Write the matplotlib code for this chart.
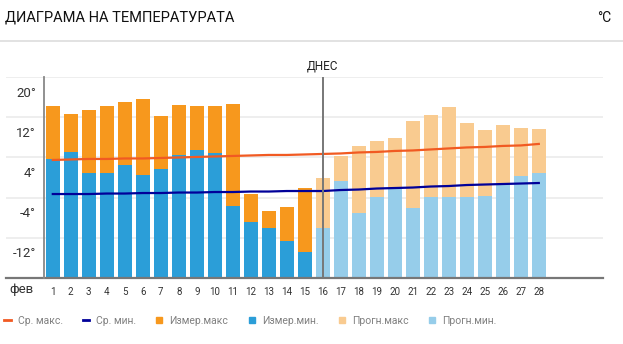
import matplotlib
matplotlib.use('Agg')
import matplotlib.pyplot as plt
import matplotlib.transforms as mtransforms
from matplotlib.lines import Line2D

# measured days (1..15) and forecast days (16..28), °C
days_meas = list(range(1, 16))
meas_max = [14.3, 12.7, 13.5, 14.3, 15.1, 15.7, 12.3, 14.5, 14.3, 14.3, 14.7, -3.3, -6.7, -5.9, -2.1]
meas_min = [3.7, 5.1, 0.9, 0.9, 2.5, 0.5, 1.7, 4.5, 5.5, 4.9, -5.7, -8.9, -10.1, -12.7, -14.9]

days_fc = list(range(16, 29))
fc_max = [-0.1, 4.3, 6.3, 7.3, 7.9, 11.3, 12.5, 14.1, 10.9, 9.5, 10.5, 9.9, 9.7]
fc_min = [-10.1, -0.7, -7.1, -3.9, -2.3, -6.1, -3.9, -3.9, -3.9, -3.7, -1.3, 0.3, 0.9]

days_all = list(range(1, 29))
avg_max = [3.5, 3.6, 3.7, 3.7, 3.8, 3.8, 3.9, 4.0, 4.1, 4.2, 4.3, 4.4, 4.5, 4.5, 4.6,
           4.7, 4.8, 5.0, 5.1, 5.3, 5.4, 5.6, 5.8, 6.0, 6.1, 6.3, 6.4, 6.7]
avg_min = [-3.3, -3.3, -3.3, -3.2, -3.2, -3.1, -3.1, -3.0, -3.0, -2.9, -2.9, -2.8, -2.8, -2.7, -2.7,
           -2.7, -2.5, -2.4, -2.2, -2.1, -2.0, -1.8, -1.7, -1.5, -1.4, -1.3, -1.2, -1.1]

y_ticks = [20, 12, 4, -4, -12]
today = 16

C_MEAS_MAX = '#f7981d'
C_MEAS_MIN = '#2b9ed8'
C_FC_MAX = '#f9cb90'
C_FC_MIN = '#96cdea'
C_AVG_MAX = '#f15a22'
C_AVG_MIN = '#000099'

W, H = 623, 344
plt.rcParams['font.family'] = ['Roboto', 'DejaVu Sans']

fig = plt.figure(figsize=(W / 100, H / 100), dpi=100)

# plot area in pixels
px_left, px_right = 6, 603
px_top, px_bottom = 77.3, 277.7
ax = fig.add_axes([px_left / W, 1 - px_bottom / H,
                   (px_right - px_left) / W, (px_bottom - px_top) / H])
ymin, ymax = -20, 20
ax.set_ylim(ymin, ymax)
ax.set_xlim(1 + (px_left - 52.8) / 18, 1 + (px_right - 52.8) / 18)
for s in ax.spines.values():
    s.set_visible(False)

for v in y_ticks:
    ax.axhline(v, color='#ebebeb', lw=1.2, zorder=0)

# y labels sit below their grid line
offset = mtransforms.ScaledTranslation(0, -0.16, fig.dpi_scale_trans)
for v in y_ticks:
    ax.text(0.067, v, f'{v}°', ha='right', va='center', fontsize=9.5,
            color='#333333', transform=ax.transData + offset, clip_on=False)

bw = 0.78
ax.bar(days_meas, [m - ymin for m in meas_min], bottom=ymin, width=bw, color=C_MEAS_MIN, zorder=2)
ax.bar(days_meas, [a - b for a, b in zip(meas_max, meas_min)], bottom=meas_min, width=bw,
       color=C_MEAS_MAX, zorder=2)
ax.bar(days_fc, [m - ymin for m in fc_min], bottom=ymin, width=bw, color=C_FC_MIN, zorder=2)
ax.bar(days_fc, [a - b for a, b in zip(fc_max, fc_min)], bottom=fc_min, width=bw,
       color=C_FC_MAX, zorder=2)

ax.plot(days_all, avg_max, color=C_AVG_MAX, lw=1.6, zorder=4)
ax.plot(days_all, avg_min, color=C_AVG_MIN, lw=1.6, zorder=4)

# axes lines
ax.axhline(ymin, color='#777777', lw=1.6, zorder=5, clip_on=False)
ax.plot([0.53, 0.53], [ymin, ymax], color='#888888', lw=1.3, zorder=5, clip_on=False)
ax.plot([today, today], [ymin, ymax - 0.2], color='#777777', lw=1.4, zorder=5)
ax.text(today, ymax + 2.3, 'ДНЕС', ha='center', va='center', fontsize=8.5,
        color='#222222', clip_on=False)

ax.set_yticks([])
ax.set_xticks(days_all)
ax.set_xticklabels([str(d) for d in days_all])
ax.tick_params(axis='x', length=0, pad=7, labelsize=7, labelcolor='#333333')

fig.text(21 / W, 1 - 290 / H, 'фев', ha='center', va='center', fontsize=9.5, color='#333333')

# header
fig.text(5 / W, 1 - 18 / H, 'ДИАГРАМА НА ТЕМПЕРАТУРАТА', ha='left', va='center',
         fontsize=10.5, color='#111111')
fig.text(611 / W, 1 - 18 / H, '°C', ha='right', va='center', fontsize=10,
         color='#111111')
fig.add_artist(Line2D([0, 1], [1 - 41 / H] * 2, color='#dddddd', lw=1.2))

handles = [
    Line2D([], [], color=C_AVG_MAX, lw=2),
    Line2D([], [], color=C_AVG_MIN, lw=2),
    Line2D([], [], color=C_MEAS_MAX, marker='s', ls='none', markersize=4.5),
    Line2D([], [], color=C_MEAS_MIN, marker='s', ls='none', markersize=4.5),
    Line2D([], [], color=C_FC_MAX, marker='s', ls='none', markersize=4.5),
    Line2D([], [], color=C_FC_MIN, marker='s', ls='none', markersize=4.5),
]
labels = ['Ср. макс.', 'Ср. мин.', 'Измер.макс', 'Измер.мин.', 'Прогн.макс', 'Прогн.мин.']
leg = fig.legend(handles, labels, loc='center left', bbox_to_anchor=(2 / W, 1 - 321 / H),
                 ncol=6, frameon=False, fontsize=7.5, handlelength=0.65, handletextpad=0.65,
                 columnspacing=1.9, borderaxespad=0, borderpad=0.2)
for t in leg.get_texts():
    t.set_color('#808080')

fig.savefig('out.png', dpi=100)
